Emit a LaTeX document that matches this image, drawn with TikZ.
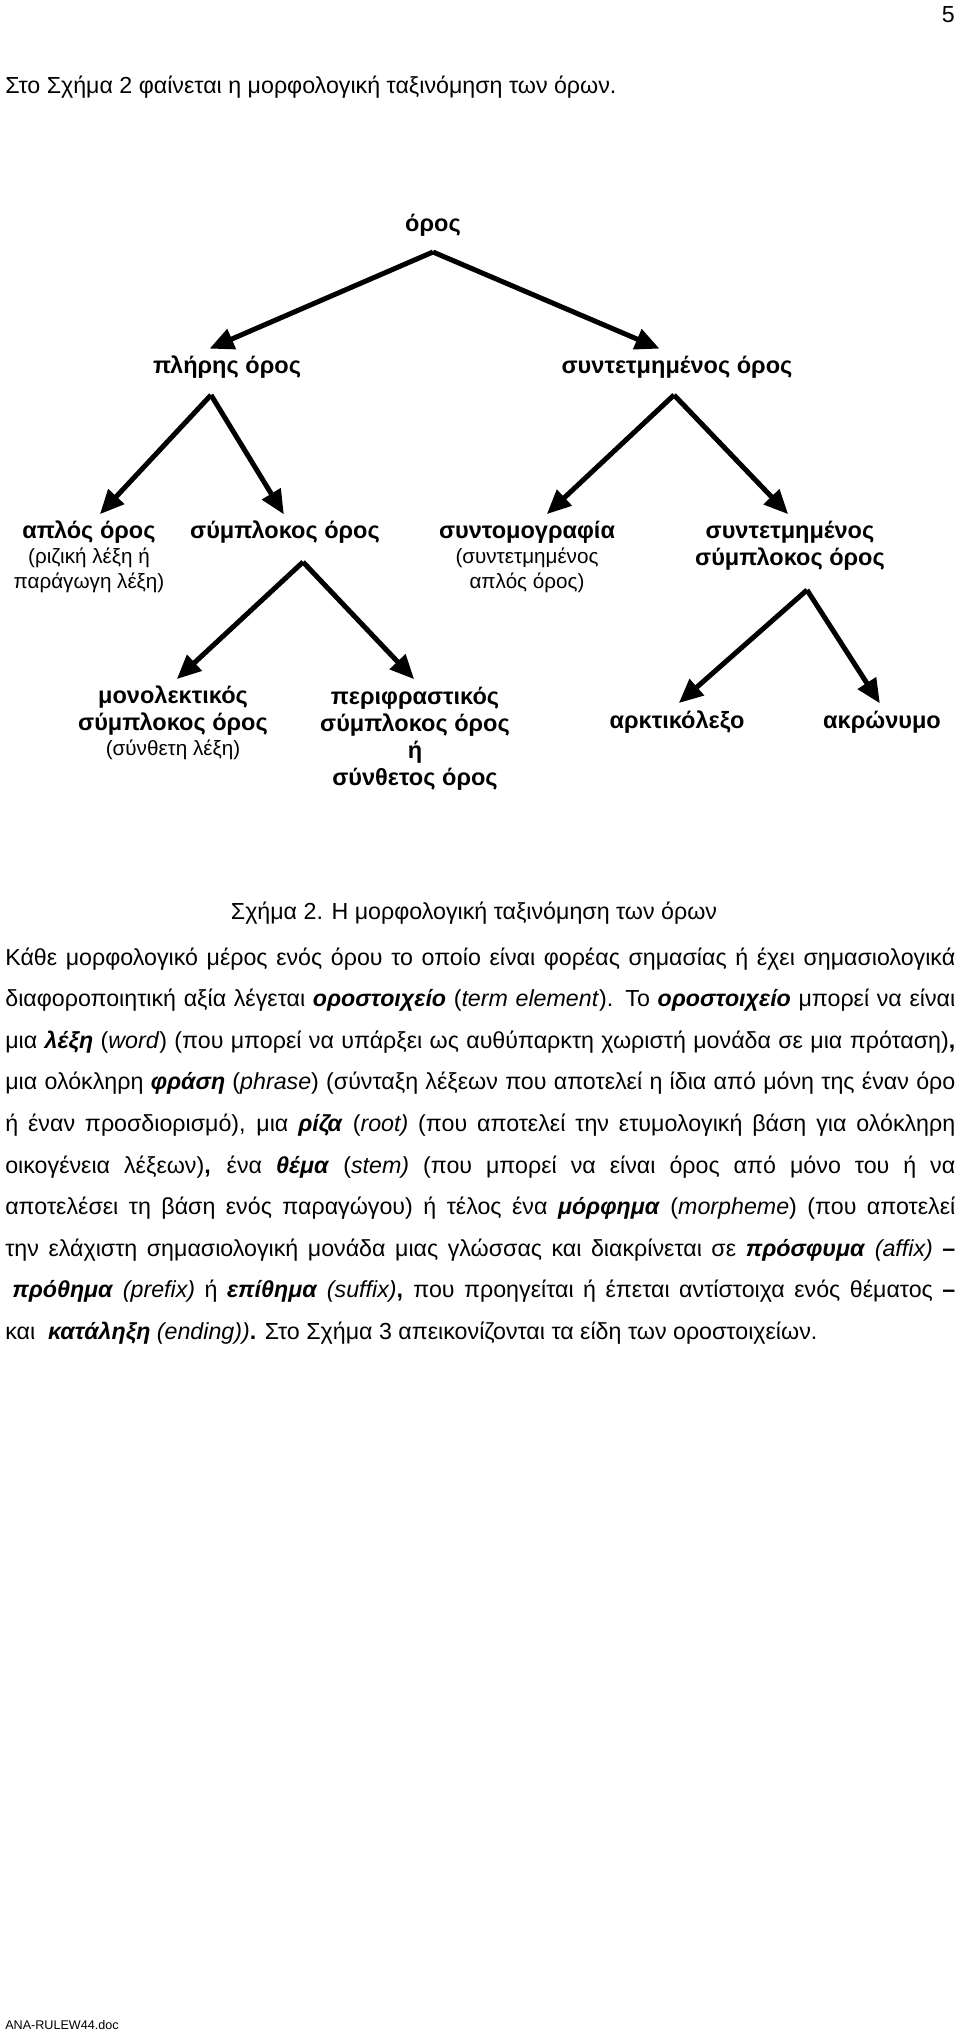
\documentclass[tikz,border=0pt]{standalone}
\usepackage{fontspec}
\setmainfont{Liberation Sans}
\usetikzlibrary{arrows.meta}
\newcommand{\bi}[1]{\textbf{\textit{#1}}}
\tikzset{
  arr/.style={line width=3.1pt,-{Triangle[length=15pt,width=13pt]},shorten >=-1pt},
  lbl/.style={font=\fontsize{14.6}{16.8}\selectfont\bfseries,align=center,inner sep=0pt},
  sub/.style={font=\fontsize{12.8}{15.5}\selectfont,align=center,inner sep=0pt},
  bodyline/.style={anchor=base west,inner sep=0pt,text width=589pt,align=justify,font=\fontsize{14.4}{16}\selectfont},
  plainline/.style={anchor=base west,inner sep=0pt,font=\fontsize{14.4}{16}\selectfont},
}
\begin{document}
\begin{tikzpicture}[x=0.62pt,y=-0.62pt]
\useasboundingbox (0,0) rectangle (960,2034);
\fill[white] (0,0) rectangle (960,2034);
% page number and intro
\node[plainline,anchor=base east] (pnum) at (955,22) {5};
\node[plainline] (intro) at (5,93) {Στο Σχήμα 2 φαίνεται η μορφολογική ταξινόμηση των όρων.};
% tree
\node[lbl] (oros) at (433,225) {όρος};
\coordinate (orosS) at (433,252);
\node[lbl] (pliris) at (227,367) {πλήρης όρος};
\coordinate (plirisN) at (211,348);
\coordinate (plirisS) at (211,395);
\node[lbl] (synt) at (677,367) {συντετμημένος όρος};
\coordinate (syntN) at (658,348);
\coordinate (syntS) at (674,395);
\node[lbl] (aplos) at (89,532) {απλός όρος};
\node[sub] (aplosSub) at (89,570) {(ριζική λέξη ή\\παράγωγη λέξη)};
\coordinate (aplosN) at (101,513);
\node[lbl] (symp) at (285,532) {σύμπλοκος όρος};
\coordinate (sympN) at (283,513);
\coordinate (sympS) at (303,562);
\node[lbl] (syntom) at (527,532) {συντομογραφία};
\node[sub] (syntomSub) at (527,570) {(συντετμημένος\\απλός όρος)};
\coordinate (syntomN) at (548,513);
\node[lbl] (syntsymp) at (790,546) {συντετμημένος\\σύμπλοκος όρος};
\coordinate (syntsympN) at (787,513);
\coordinate (syntsympS) at (807,590);
\node[lbl] (monol) at (173,711) {μονολεκτικός\\σύμπλοκος όρος};
\node[sub] (monolSub) at (173,750) {(σύνθετη λέξη)};
\coordinate (monolN) at (178,678);
\node[lbl] (perif) at (415,739) {περιφραστικός\\σύμπλοκος όρος\\ή\\σύνθετος όρος};
\coordinate (perifN) at (413,678);
\node[lbl] (arkt) at (677,722) {αρκτικόλεξο};
\coordinate (arktN) at (680,702);
\node[lbl] (akr) at (882,722) {ακρώνυμο};
\coordinate (akrN) at (879,702);
\draw[arr] (orosS) -- (plirisN);
\draw[arr] (orosS) -- (syntN);
\draw[arr] (plirisS) -- (aplosN);
\draw[arr] (plirisS) -- (sympN);
\draw[arr] (syntS) -- (syntomN);
\draw[arr] (syntS) -- (syntsympN);
\draw[arr] (sympS) -- (monolN);
\draw[arr] (sympS) -- (perifN);
\draw[arr] (syntsympS) -- (arktN);
\draw[arr] (syntsympS) -- (akrN);
% caption
\node[plainline,anchor=base] (cap) at (474,919) {Σχήμα 2. Η μορφολογική ταξινόμηση των όρων};
% paragraph
\node[bodyline] (l1) at (5,965) {\parfillskip=0pt Κάθε μορφολογικό μέρος ενός όρου το οποίο είναι φορέας σημασίας ή έχει σημασιολογικά\par};
\node[bodyline] (l2) at (5,1006.6) {\parfillskip=0pt διαφοροποιητική αξία λέγεται \bi{οροστοιχείο} (\textit{term element}). Το \bi{οροστοιχείο} μπορεί να είναι\par};
\node[bodyline] (l3) at (5,1048.2) {\parfillskip=0pt μια \bi{λέξη} (\textit{word}) (που μπορεί να υπάρξει ως αυθύπαρκτη χωριστή μονάδα σε μια πρόταση)\textbf{,}\par};
\node[bodyline] (l4) at (5,1089.8) {\parfillskip=0pt μια ολόκληρη \bi{φράση} (\textit{phrase}) (σύνταξη λέξεων που αποτελεί η ίδια από μόνη της έναν όρο\par};
\node[bodyline] (l5) at (5,1131.4) {\parfillskip=0pt ή έναν προσδιορισμό), μια \bi{ρίζα} (\textit{root)} (που αποτελεί την ετυμολογική βάση για ολόκληρη\par};
\node[bodyline] (l6) at (5,1173) {\parfillskip=0pt οικογένεια λέξεων)\textbf{,} ένα \bi{θέμα} (\textit{stem)} (που μπορεί να είναι όρος από μόνο του ή να\par};
\node[bodyline] (l7) at (5,1214.6) {\parfillskip=0pt αποτελέσει τη βάση ενός παραγώγου) ή τέλος ένα \bi{μόρφημα} (\textit{morpheme}) (που αποτελεί\par};
\node[bodyline] (l8) at (5,1256.2) {\parfillskip=0pt την ελάχιστη σημασιολογική μονάδα μιας γλώσσας και διακρίνεται σε \bi{πρόσφυμα} \textit{(affix)} \textbf{–}\par};
\node[bodyline] (l9) at (5,1297.8) {\parfillskip=0pt \hspace*{0.3em}\bi{πρόθημα} \textit{(prefix)} ή \bi{επίθημα} \textit{(suffix)}\textbf{,} που προηγείται ή έπεται αντίστοιχα ενός θέματος \textbf{–}\par};
\node[plainline] (l10) at (5,1339.4) {και \ \bi{κατάληξη} \textit{(ending))}\textbf{.} Στο Σχήμα 3 απεικονίζονται τα είδη των οροστοιχείων.};
% footer
\node[plainline,font=\fontsize{7.8}{10}\selectfont] (foot) at (5,2029) {ANA-RULEW44.doc};
\end{tikzpicture}
\end{document}
